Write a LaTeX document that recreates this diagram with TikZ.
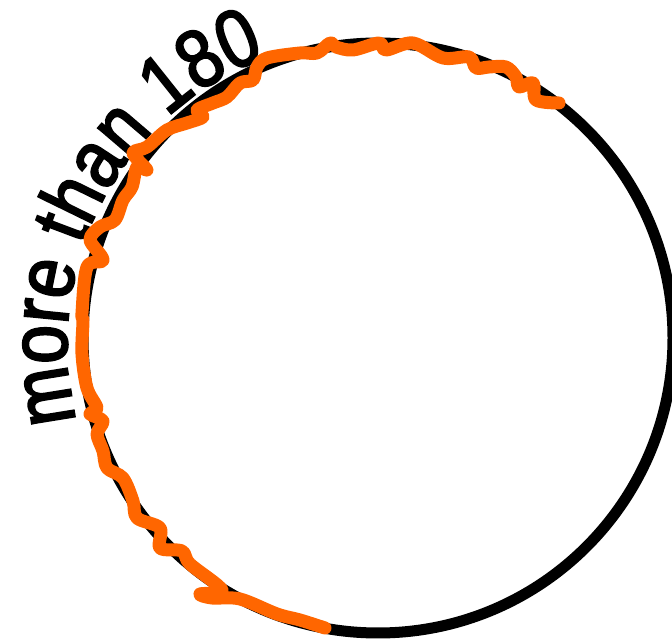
\documentclass[tikz,border=0pt]{standalone}
\usepackage{fontspec}
\setmainfont{Liberation Sans}
\newfontfamily\arcsans[FakeStretch=0.85,FakeBold=2.5]{Liberation Sans}
\usetikzlibrary{decorations.text}
\definecolor{wobble}{HTML}{FF6600}

\begin{document}
\begin{tikzpicture}[x=1pt,y=1pt]
  \useasboundingbox (0,0) rectangle (672,642);
  % Kreis
  \coordinate (c) at (378,304);
  \draw[line width=11pt] (c) circle[radius=295];
  % Beschriftung
  \coordinate (tc) at (373,298);
  \path[decorate, decoration={text along path, text align=center,
      text={|\arcsans\fontsize{82}{90}\selectfont|more than 180}}]
    (tc) ++(193.5:306) arc[start angle=193.5, end angle=111.5, radius=306];
  % orange Linie
  \begin{scope}[shift={(0,642)}, yscale=-1]
    \draw[wobble, line width=13pt, line cap=round, line join=round]
      plot[smooth, tension=0.55] coordinates {
        (325,628) (300,620) (277,614) (240,599) (212,598) (200,594) (222,590)
        (190,564) (182,551) (160,548) (160,528) (137,518) (133,501) (123,478)
        (107,468) (103,451) (97,434) (103,421) (90,414) (97,408) (87,388)
        (82,354) (83,321) (82,313) (87,267) (103,260) (90,240) (100,227)
        (115,220) (123,200) (132,187) (137,167) (147,170) (133,153) (147,147)
        (167,130) (187,123) (203,117) (197,110) (213,103) (227,97) (240,83)
        (253,80) (257,67) (267,58) (300,53) (317,53) (330,43) (336,47)
        (353,50) (379,43) (386,50) (413,43) (443,58) (469,57) (476,68)
        (489,67) (506,67) (516,77) (519,87) (533,83) (536,100) (559,103)};
  \end{scope}
\end{tikzpicture}
\end{document}
